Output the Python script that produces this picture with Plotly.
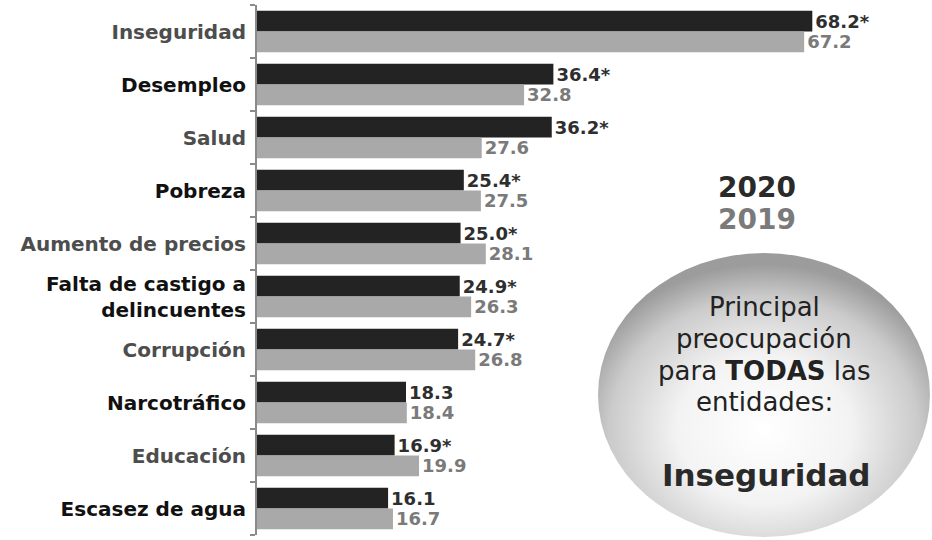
import base64
import plotly.graph_objects as go

# Datos
categorias = [
    "Inseguridad",
    "Desempleo",
    "Salud",
    "Pobreza",
    "Aumento de precios",
    "Falta de castigo a<br>delincuentes",
    "Corrupción",
    "Narcotráfico",
    "Educación",
    "Escasez de agua",
]
valores_2020 = [68.2, 36.4, 36.2, 25.4, 25.0, 24.9, 24.7, 18.3, 16.9, 16.1]
valores_2019 = [67.2, 32.8, 27.6, 27.5, 28.1, 26.3, 26.8, 18.4, 19.9, 16.7]
significativo_2020 = [True, True, True, True, True, True, True, False, True, False]

FONT = "DejaVu Sans"
W, H = 932, 540
L, R, T, B = 257, 0, 5, 5


def px(x):
    return (x - L) / (W - L - R)


def py(y):
    return (H - B - y) / (H - T - B)


texto_2020 = [f"{v:.1f}*" if s else f"{v:.1f}" for v, s in zip(valores_2020, significativo_2020)]
texto_2019 = [f"{v:.1f}" for v in valores_2019]

# etiquetas alternan gris / negro
ticktext = [
    f'<span style="color:{"#4d4d4d" if i % 2 == 0 else "#111111"}">{c}</span>'
    for i, c in enumerate(categorias)
]

fig = go.Figure()
fig.add_trace(
    go.Bar(
        y=categorias, x=valores_2020, orientation="h", name="2020",
        marker=dict(color="#232323", line=dict(width=0)),
        text=texto_2020, textposition="outside", cliponaxis=False,
        constraintext="none",
        textfont=dict(family=FONT, size=18, color="#2e2e2e", weight="bold"),
        hoverinfo="x+y",
    )
)
fig.add_trace(
    go.Bar(
        y=categorias, x=valores_2019, orientation="h", name="2019",
        marker=dict(color="#a9a9a9", line=dict(width=0)),
        text=texto_2019, textposition="outside", cliponaxis=False,
        constraintext="none",
        textfont=dict(family=FONT, size=18, color="#7a7a7a", weight="bold"),
        hoverinfo="x+y",
    )
)

# círculo con degradado radial (imagen svg)
svg = (
    "<svg xmlns='http://www.w3.org/2000/svg' width='334' height='286' viewBox='0 0 334 286'>"
    "<defs><radialGradient id='g' cx='50%' cy='62%' r='58%'>"
    "<stop offset='0' stop-color='#ffffff'/>"
    "<stop offset='0.45' stop-color='#f3f3f3'/>"
    "<stop offset='0.8' stop-color='#cbcbcb'/>"
    "<stop offset='1' stop-color='#9c9c9c'/>"
    "</radialGradient></defs>"
    "<ellipse cx='167' cy='143' rx='166' ry='142' fill='url(#g)'/></svg>"
)
src = "data:image/svg+xml;base64," + base64.b64encode(svg.encode()).decode()
fig.add_layout_image(
    source=src, xref="paper", yref="paper",
    x=px(597), y=py(252), sizex=334 / (W - L - R), sizey=286 / (H - T - B),
    xanchor="left", yanchor="top", sizing="stretch", layer="below",
)

anots = [
    ("2020", 757, 187, 28, "#2a2a2a", "bold"),
    ("2019", 757, 219, 28, "#7a7a7a", "bold"),
    ("Principal", 764, 307, 26, "#222222", "normal"),
    ("preocupación", 764, 339, 26, "#222222", "normal"),
    ("para <b>TODAS</b> las", 764, 371, 26, "#222222", "normal"),
    ("entidades:", 764, 402, 26, "#222222", "normal"),
    ("Inseguridad", 766, 475, 31, "#2a2a2a", "bold"),
]
for txt, x, y, size, color, weight in anots:
    fig.add_annotation(
        text=txt, xref="paper", yref="paper", x=px(x), y=py(y),
        xanchor="center", yanchor="middle", showarrow=False,
        font=dict(family=FONT, size=size, color=color, weight=weight),
    )

fig.update_layout(
    width=W, height=H,
    margin=dict(l=L, r=R, t=T, b=B),
    barmode="group", bargap=0.22, bargroupgap=0,
    showlegend=False,
    plot_bgcolor="white", paper_bgcolor="white",
    font=dict(family=FONT),
)
fig.update_xaxes(
    range=[0, 82.9], visible=False, showgrid=False, zeroline=False, fixedrange=True,
)
fig.update_yaxes(
    categoryorder="array", categoryarray=categorias,
    autorange="reversed",
    tickvals=categorias, ticktext=ticktext,
    tickson="boundaries", ticks="outside", ticklen=5, tickcolor="#8a8a8a", tickwidth=1.5,
    ticklabelstandoff=5,
    showline=True, linecolor="#8a8a8a", linewidth=2,
    showgrid=False, zeroline=False,
    tickfont=dict(family=FONT, size=20, color="#111111", weight="bold"),
    automargin=False,
)

# quitar el margen por defecto del body para que la figura quede en (0, 0)
fig.write_html(
    "out.html",
    config={"displayModeBar": False},
    post_script="document.body.style.margin='0';",
)
